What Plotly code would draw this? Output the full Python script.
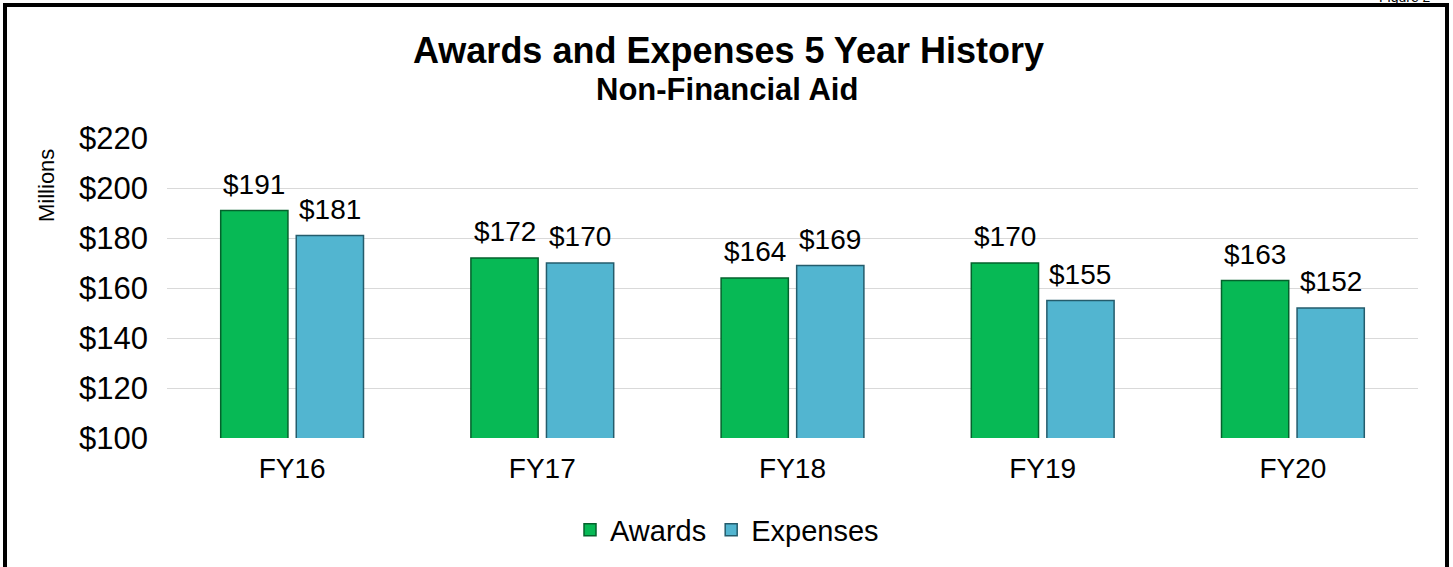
import plotly.graph_objects as go

categories = ["FY16", "FY17", "FY18", "FY19", "FY20"]
awards = [191, 172, 164, 170, 163]
expenses = [181, 170, 169, 155, 152]
y_ticks = [100, 120, 140, 160, 180, 200, 220]
y_tick_labels = ["$100", "$120", "$140", "$160", "$180", "$200", "$220"]

FONT = "Liberation Sans, Arial, sans-serif"
W, H = 1453, 567
L, R, T, B = 167, 35, 138, 129
PW = W - L - R
PH = H - T - B
BARGAP = 0.396
BARGROUPGAP = 0.11


def px_x(x):
    return (x - L) / PW


def px_y(y):
    return (H - B - y) / PH


fig = go.Figure()
fig.add_trace(go.Bar(
    name="Awards", x=categories, y=awards,
    marker=dict(color="#07B955", line=dict(color="#04622C", width=1.5)),
))
fig.add_trace(go.Bar(
    name="Expenses", x=categories, y=expenses,
    marker=dict(color="#52B5D0", line=dict(color="#245C6C", width=1.5)),
))

# value labels placed above each bar via data coordinates
slot = PW / len(categories) * (1 - BARGAP) / 2
annotations = []
for series, shift in ((awards, -slot / 2), (expenses, slot / 2)):
    for cat, v in zip(categories, series):
        annotations.append(dict(
            text=f"${v}", xref="x", yref="y", x=cat, y=v,
            xshift=shift, yshift=9, xanchor="center", yanchor="bottom",
            showarrow=False,
            font=dict(family=FONT, size=28, color="#000000"),
        ))

annotations += [
    dict(text="<b>Awards and Expenses 5 Year History</b>",
         xref="paper", yref="paper", x=px_x(728), y=px_y(51),
         xanchor="center", yanchor="middle", showarrow=False,
         font=dict(family=FONT, size=36, color="#000000")),
    dict(text="<b>Non-Financial Aid</b>",
         xref="paper", yref="paper", x=px_x(727), y=px_y(89),
         xanchor="center", yanchor="middle", showarrow=False,
         font=dict(family=FONT, size=31, color="#000000")),
    dict(text="Millions", textangle=-90,
         xref="paper", yref="paper", x=px_x(46), y=px_y(186),
         xanchor="center", yanchor="middle", showarrow=False,
         font=dict(family=FONT, size=22, color="#000000")),
    dict(text="Figure 2",
         xref="paper", yref="paper", x=px_x(1433), y=px_y(7),
         xanchor="right", yanchor="bottom", showarrow=False,
         font=dict(family=FONT, size=14, color="#000000")),
]

fig.update_layout(
    width=W, height=H,
    margin=dict(l=L, r=R, t=T, b=B, pad=0),
    paper_bgcolor="white", plot_bgcolor="white",
    barmode="group", bargap=BARGAP, bargroupgap=BARGROUPGAP,
    font=dict(family=FONT, color="#000000"),
    showlegend=True,
    legend=dict(
        orientation="h", x=px_x(727), xanchor="center",
        y=px_y(530), yanchor="middle",
        font=dict(family=FONT, size=29, color="#000000"),
        itemclick=False, bgcolor="rgba(0,0,0,0)",
    ),
    xaxis=dict(
        showgrid=False, showline=False, zeroline=False,
        tickfont=dict(family=FONT, size=28, color="#000000"),
        ticks="", ticklabelstandoff=11,
    ),
    yaxis=dict(
        range=[100, 220], tickvals=y_ticks, ticktext=y_tick_labels,
        showgrid=True, gridcolor="#D9D9D9", gridwidth=1,
        zeroline=False, showline=False, ticks="",
        ticklabelstandoff=18,
        tickfont=dict(family=FONT, size=31, color="#000000"),
    ),
    shapes=[
        dict(type="rect", xref="paper", yref="paper",
             x0=px_x(5), x1=px_x(1447), y0=px_y(5), y1=px_y(600),
             line=dict(color="#000000", width=4), fillcolor="rgba(0,0,0,0)",
             layer="above"),
    ],
    annotations=annotations,
)

fig.write_html(
    "out.html",
    config={"displayModeBar": False},
    post_script="document.body.style.margin='0';document.body.style.overflow='hidden';",
)
